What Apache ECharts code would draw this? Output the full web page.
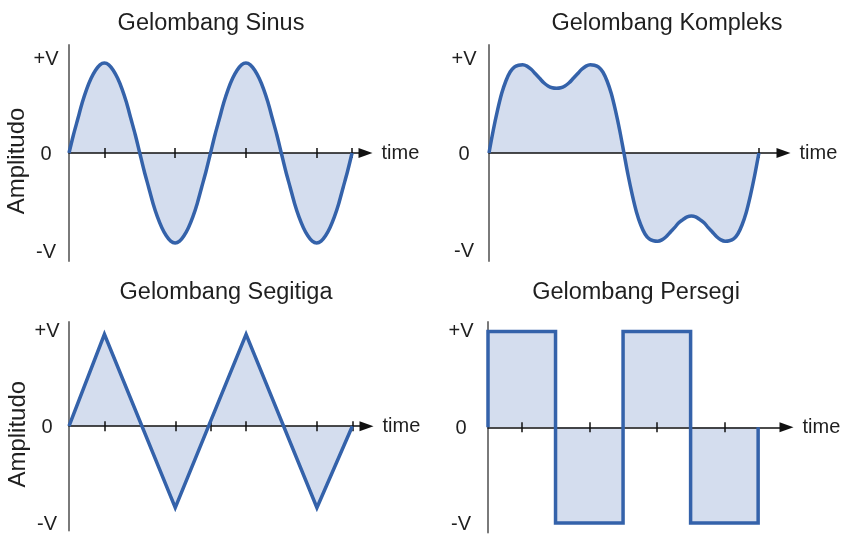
<!DOCTYPE html>
<html>
<head>
<meta charset="utf-8">
<script src="https://cdn.jsdelivr.net/npm/echarts@6/dist/echarts.min.js"></script>
<style>
  html, body { margin: 0; padding: 0; background: #fff; }
  #chart { width: 843px; height: 534px; }
</style>
</head>
<body>
<div id="chart"></div>
<script>
// ---- text ----
const titles = ['Gelombang Sinus', 'Gelombang Kompleks', 'Gelombang Segitiga', 'Gelombang Persegi'];
const yTickValues = [-1, 0, 1];
const yTickLabels = ['-V', '0', '+V'];
const xAxisName = 'time';
const yAxisName = 'Amplitudo';

// ---- waveforms (x in quarter-period steps, y in units of V) ----
const fineX = [0, 0.125, 0.25, 0.375, 0.5, 0.625, 0.75, 0.875, 1, 1.125, 1.25, 1.375, 1.5, 1.625, 1.75, 1.875,
               2, 2.125, 2.25, 2.375, 2.5, 2.625, 2.75, 2.875, 3, 3.125, 3.25, 3.375, 3.5, 3.625, 3.75, 3.875,
               4, 4.125, 4.25, 4.375, 4.5, 4.625, 4.75, 4.875, 5, 5.125, 5.25, 5.375, 5.5, 5.625, 5.75, 5.875,
               6, 6.125, 6.25, 6.375, 6.5, 6.625, 6.75, 6.875, 7, 7.125, 7.25, 7.375, 7.5, 7.625, 7.75, 7.875, 8];

const sineY = [0, 0.2, 0.38, 0.56, 0.71, 0.83, 0.92, 0.98, 1, 0.98, 0.92, 0.83, 0.71, 0.56, 0.38, 0.2,
               0, -0.2, -0.38, -0.56, -0.71, -0.83, -0.92, -0.98, -1, -0.98, -0.92, -0.83, -0.71, -0.56, -0.38, -0.2,
               0, 0.2, 0.38, 0.56, 0.71, 0.83, 0.92, 0.98, 1, 0.98, 0.92, 0.83, 0.71, 0.56, 0.38, 0.2,
               0, -0.2, -0.38, -0.56, -0.71, -0.83, -0.92, -0.98, -1, -0.98, -0.92, -0.83, -0.71, -0.56, -0.38, -0.2, 0];

const complexY = [0, 0.25, 0.47, 0.66, 0.8, 0.9, 0.955, 0.975, 0.98, 0.965, 0.93, 0.88, 0.83, 0.78, 0.745, 0.725,
                  0.72, 0.725, 0.745, 0.78, 0.83, 0.88, 0.93, 0.965, 0.98, 0.975, 0.955, 0.9, 0.8, 0.66, 0.47, 0.25,
                  0, -0.25, -0.47, -0.66, -0.8, -0.9, -0.955, -0.975, -0.98, -0.965, -0.93, -0.88, -0.83, -0.775, -0.74, -0.71,
                  -0.7, -0.71, -0.74, -0.775, -0.83, -0.88, -0.93, -0.965, -0.98, -0.975, -0.955, -0.9, -0.8, -0.66, -0.47, -0.25, 0];

const triangleX = [0, 1, 3, 5, 7, 8];
const triangleY = [0, 0.97, -0.86, 0.97, -0.86, 0];

const squareX = [0, 0, 2, 2, 4, 4, 6, 6, 8, 8];
const squareY = [0, 1, 1, -1, -1, 1, 1, -1, -1, 0];

// tick marks along the time axis
const sineTicks = [1, 3, 5, 7, 8];
const complexTicks = [8];
const triangleTicks = [1, 3, 4, 5, 7, 8];
const squareTicks = [1, 3, 5, 7];

// ---- styling ----
const FONT = '"Liberation Sans", Arial, sans-serif';
const TEXT = '#1f1f1f';
const LINE = '#3462aa';
const FILL = '#d4ddee';

const panels = [
  { xs: fineX, ys: sineY, ticks: sineTicks, smooth: 0.3,
    left: 69, top: 45, width: 296.5, height: 216, xMax: 8.38, yMax: 1.2, labelMargin: 23,
    labelNudge: { up: 8, down: 18 }, titleX: 211, titleY: 24, yName: true },
  { xs: fineX, ys: complexY, ticks: complexTicks, smooth: 0.3,
    left: 489, top: 45, width: 294.5, height: 216, xMax: 8.73, yMax: 1.2, labelMargin: 25,
    labelNudge: { up: 8, down: 16 }, titleX: 667, titleY: 24, yName: false },
  { xs: triangleX, ys: triangleY, ticks: triangleTicks, smooth: false,
    left: 69, top: 322, width: 297.5, height: 211, xMax: 8.4, yMax: 1.1, labelMargin: 22,
    labelNudge: { up: 0, down: 6 }, titleX: 226, titleY: 293, yName: true },
  { xs: squareX, ys: squareY, ticks: squareTicks, smooth: false,
    left: 488, top: 322, width: 298.5, height: 211, xMax: 8.84, yMax: 1.1, labelMargin: 27,
    labelNudge: { up: 0, down: 2 }, titleX: 636, titleY: 293, yName: false }
];

const grid = [], xAxis = [], yAxis = [], series = [], graphic = [];

panels.forEach((p, i) => {
  grid.push({ left: p.left, top: p.top, width: p.width, height: p.height });

  // main time axis: line, arrow, lower half of the ticks, name
  xAxis.push({
    gridIndex: i, type: 'value', min: 0, max: p.xMax, position: 'bottom', z: 3,
    axisLine: { show: true, onZero: true, symbol: ['none', 'triangle'], symbolSize: [10, 14],
                lineStyle: { color: '#111', width: 1.6 } },
    axisTick: { show: true, customValues: p.ticks, length: 5, lineStyle: { color: '#111', width: 1.5 } },
    axisLabel: { show: false },
    splitLine: { show: false },
    name: xAxisName, nameLocation: 'end', nameGap: 16,
    nameTextStyle: { fontFamily: FONT, fontSize: 20, color: TEXT }
  });
  // companion axis on the same zero line: upper half of the ticks
  xAxis.push({
    gridIndex: i, type: 'value', min: 0, max: p.xMax, position: 'top', z: 3,
    axisLine: { show: false, onZero: true, onZeroAxisIndex: i },
    axisTick: { show: true, customValues: p.ticks, length: 5, lineStyle: { color: '#111', width: 1.5 } },
    axisLabel: { show: false },
    splitLine: { show: false }
  });

  const labelStyle = { fontFamily: FONT, fontSize: 20, color: TEXT };
  const y = {
    gridIndex: i, type: 'value', min: -p.yMax, max: p.yMax, z: 3,
    axisLine: { show: true, lineStyle: { color: '#7a7a7a', width: 2 } },
    axisTick: { show: false },
    splitLine: { show: false },
    axisLabel: {
      customValues: yTickValues,
      formatter: v => {
        const t = yTickLabels[yTickValues.indexOf(v)];
        return v > 0 ? '{hi|' + t + '}' : v < 0 ? '{lo|' + t + '}' : '{mid|' + t + '}';
      },
      margin: p.labelMargin, align: 'center',
      rich: {
        hi: Object.assign({ padding: [0, 0, p.labelNudge.up, 0] }, labelStyle),
        lo: Object.assign({ padding: [p.labelNudge.down, 0, 0, 0] }, labelStyle),
        mid: Object.assign({ padding: [3, 0, 0, 0] }, labelStyle)
      },
      ...labelStyle
    }
  };
  if (p.yName) {
    Object.assign(y, {
      name: yAxisName, nameLocation: 'middle', nameRotate: 90, nameGap: 37,
      nameTextStyle: { fontFamily: FONT, fontSize: 24, color: TEXT, padding: [0, 16, 0, 0] }
    });
  }
  yAxis.push(y);

  const data = p.xs.map((x, k) => [x, p.ys[k]]);
  // shaded area under the wave
  series.push({
    type: 'line', xAxisIndex: 2 * i, yAxisIndex: i, data, smooth: p.smooth,
    symbol: 'none', clip: false, z: 1, silent: true,
    lineStyle: { width: 0, opacity: 0 },
    areaStyle: { color: FILL, opacity: 1 }
  });
  // the wave itself
  series.push({
    type: 'line', xAxisIndex: 2 * i, yAxisIndex: i, data, smooth: p.smooth,
    symbol: 'none', clip: false, z: 4, silent: true,
    lineStyle: { color: LINE, width: 3.5, join: 'miter' }
  });

  graphic.push({
    type: 'text', x: p.titleX, y: p.titleY, silent: true,
    style: { text: titles[i], fontFamily: FONT, fontSize: 23.5, fill: TEXT,
             align: 'center', verticalAlign: 'middle', textAlign: 'center', textVerticalAlign: 'middle' }
  });
});

const chart = echarts.init(document.getElementById('chart'), null, { renderer: 'canvas' });
chart.setOption({
  backgroundColor: '#fff',
  animation: false,
  grid, xAxis, yAxis, series, graphic
});
</script>
</body>
</html>
